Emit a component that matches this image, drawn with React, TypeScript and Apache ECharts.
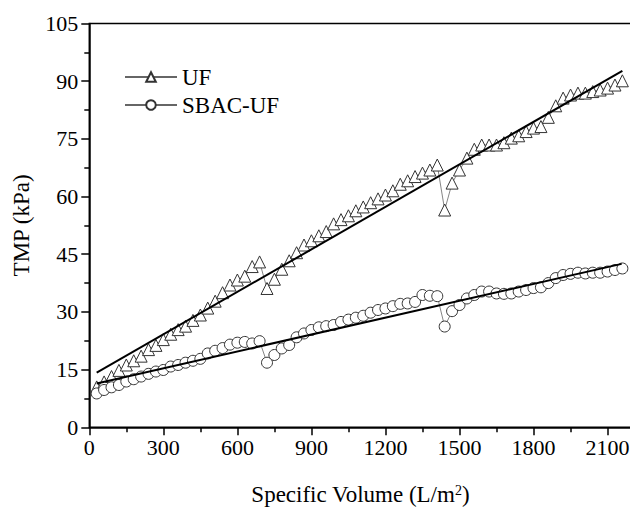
import React, { useEffect, useRef } from "react";
import * as echarts from "echarts";

const volumes = [
  30, 60, 90, 120, 150, 180, 210, 240, 270, 300, 330, 360, 390, 420, 450, 480, 510, 540, 570, 600,
  630, 660, 690, 720, 750, 780, 810, 840, 870, 900, 930, 960, 990, 1020, 1050, 1080, 1110, 1140,
  1170, 1200, 1230, 1260, 1290, 1320, 1350, 1380, 1410, 1440, 1470, 1500, 1530, 1560, 1590, 1620,
  1650, 1680, 1710, 1740, 1770, 1800, 1830, 1860, 1890, 1920, 1950, 1980, 2010, 2040, 2070, 2100,
  2130, 2160,
];

const ufTmp = [
  10.5, 11.8, 13.2, 14.8, 16.2, 17.3, 18.5, 20.2, 21.3, 22.8, 24.2, 25.4, 26.3, 27.8, 29.2, 31.0,
  32.8, 35.0, 37.0, 38.3, 39.3, 41.8, 43.0, 36.1, 38.5, 41.1, 43.3, 45.4, 47.4, 48.5, 49.8, 50.9,
  52.9, 54.0, 55.0, 56.3, 57.3, 58.4, 59.4, 60.4, 61.5, 63.2, 64.1, 65.2, 66.1, 66.9, 68.2, 56.5,
  63.5, 66.9, 70.0, 72.3, 73.4, 73.4, 73.4, 74.0, 75.2, 75.8, 76.9, 77.8, 78.2, 80.6, 83.6, 85.6,
  86.4, 86.9, 86.9, 87.3, 87.7, 88.2, 89.0, 90.1,
];

const sbacTmp = [
  8.8, 9.7, 10.4, 11.0, 11.9, 12.5, 13.2, 13.9, 14.5, 14.9, 15.8, 16.2, 16.8, 17.3, 17.8, 19.2,
  19.9, 20.6, 21.5, 22.0, 22.2, 21.8, 22.4, 16.8, 18.8, 20.5, 21.4, 23.4, 24.4, 25.3, 26.0, 26.3,
  26.6, 27.4, 28.0, 28.5, 29.0, 29.8, 30.5, 30.9, 31.5, 32.1, 32.2, 32.6, 34.4, 34.2, 34.1, 26.2,
  30.2, 31.8, 33.5, 34.4, 35.3, 35.3, 34.8, 34.7, 34.8, 35.3, 35.7, 36.2, 36.4, 37.5, 38.8, 39.6,
  39.9, 40.2, 40.0, 40.2, 40.2, 40.5, 40.9, 41.3,
];

// linear fit end points [volume, TMP]
const ufFit = [
  [30, 14.2],
  [2160, 92.7],
];
const sbacFit = [
  [30, 11.4],
  [2157, 42.5],
];

const FONT = "Liberation Serif, Times New Roman, serif";

export default function App() {
  const ref = useRef<HTMLDivElement>(null);
  useEffect(() => {
    if (!ref.current) return;
    const chart = echarts.init(ref.current, null, { renderer: "svg" });
    const markerStyle = { color: "#fff", borderColor: "#333", borderWidth: 1 };
    const tickText = { fontFamily: FONT, fontSize: 22, color: "#000" };
    const nameText = { fontFamily: FONT, fontSize: 23, color: "#000" };
    const option = {
      animation: false,
      backgroundColor: "#fff",
      textStyle: { fontFamily: FONT },
      grid: {
        left: 89.3,
        top: 23.5,
        width: 592.3,
        height: 403.8,
        outerBoundsMode: "none",
        containLabel: false,
        show: true,
        borderColor: "#000",
        borderWidth: 1.5,
        backgroundColor: "transparent",
      },
      legend: {
        data: ["UF", "SBAC-UF"],
        orient: "vertical",
        left: 124,
        top: 65.5,
        padding: 0,
        itemWidth: 52,
        itemHeight: 12,
        itemGap: 5,
        textStyle: { fontFamily: FONT, fontSize: 23, color: "#000" },
      },
      xAxis: {
        type: "value",
        min: 0,
        max: 2400,
        interval: 300,
        name: "Specific Volume (L/m{sup|2})",
        nameLocation: "middle",
        nameGap: 56,
        nameTextStyle: {
          ...nameText,
          padding: [0, 50, 0, 0],
          rich: { sup: { fontFamily: FONT, fontSize: 14, color: "#000", verticalAlign: "top", padding: [0, 0, 9, 0] } },
        },
        axisLine: { show: true, lineStyle: { color: "#000", width: 1.5 } },
        axisTick: { show: true, inside: false, length: 8, lineStyle: { color: "#000", width: 1.5 } },
        minorTick: { show: true, splitNumber: 2, length: 5, lineStyle: { color: "#000", width: 1.5 } },
        axisLabel: {
          ...tickText,
          margin: 9,
          showMaxLabel: false,
          formatter: (v: number) => (v > 2100 ? "" : String(v)),
        },
        splitLine: { show: false },
      },
      yAxis: {
        type: "value",
        min: 0,
        max: 105,
        interval: 15,
        name: "TMP (kPa)",
        nameLocation: "middle",
        nameGap: 56,
        nameTextStyle: nameText,
        axisLine: { show: true, lineStyle: { color: "#000", width: 1.5 } },
        axisTick: { show: true, inside: false, length: 8, lineStyle: { color: "#000", width: 1.5 } },
        minorTick: { show: true, splitNumber: 2, length: 5, lineStyle: { color: "#000", width: 1.5 } },
        axisLabel: { ...tickText, margin: 11, formatter: (v: number) => String(v) },
        splitLine: { show: false },
      },
      series: [
        {
          name: "UF",
          type: "line",
          data: volumes.map((v, i) => [v, ufTmp[i]]),
          symbol: "triangle",
          symbolSize: 12,
          itemStyle: markerStyle,
          lineStyle: { color: "#666", width: 0.8 },
          z: 2,
        },
        {
          name: "SBAC-UF",
          type: "line",
          data: volumes.map((v, i) => [v, sbacTmp[i]]),
          symbol: "circle",
          symbolSize: 11,
          itemStyle: markerStyle,
          lineStyle: { color: "#666", width: 0.8 },
          z: 2,
        },
        {
          name: "UF fit",
          type: "line",
          data: ufFit,
          symbol: "none",
          lineStyle: { color: "#000", width: 2 },
          z: 3,
        },
        {
          name: "SBAC-UF fit",
          type: "line",
          data: sbacFit,
          symbol: "none",
          lineStyle: { color: "#000", width: 2 },
          z: 3,
        },
      ],
    };
    chart.setOption(option as any);
    return () => chart.dispose();
  }, []);
  return (
    <div
      ref={ref}
      style={{ position: "fixed", left: 0, top: 0, width: 630, height: 507, background: "#fff" }}
    />
  );
}
